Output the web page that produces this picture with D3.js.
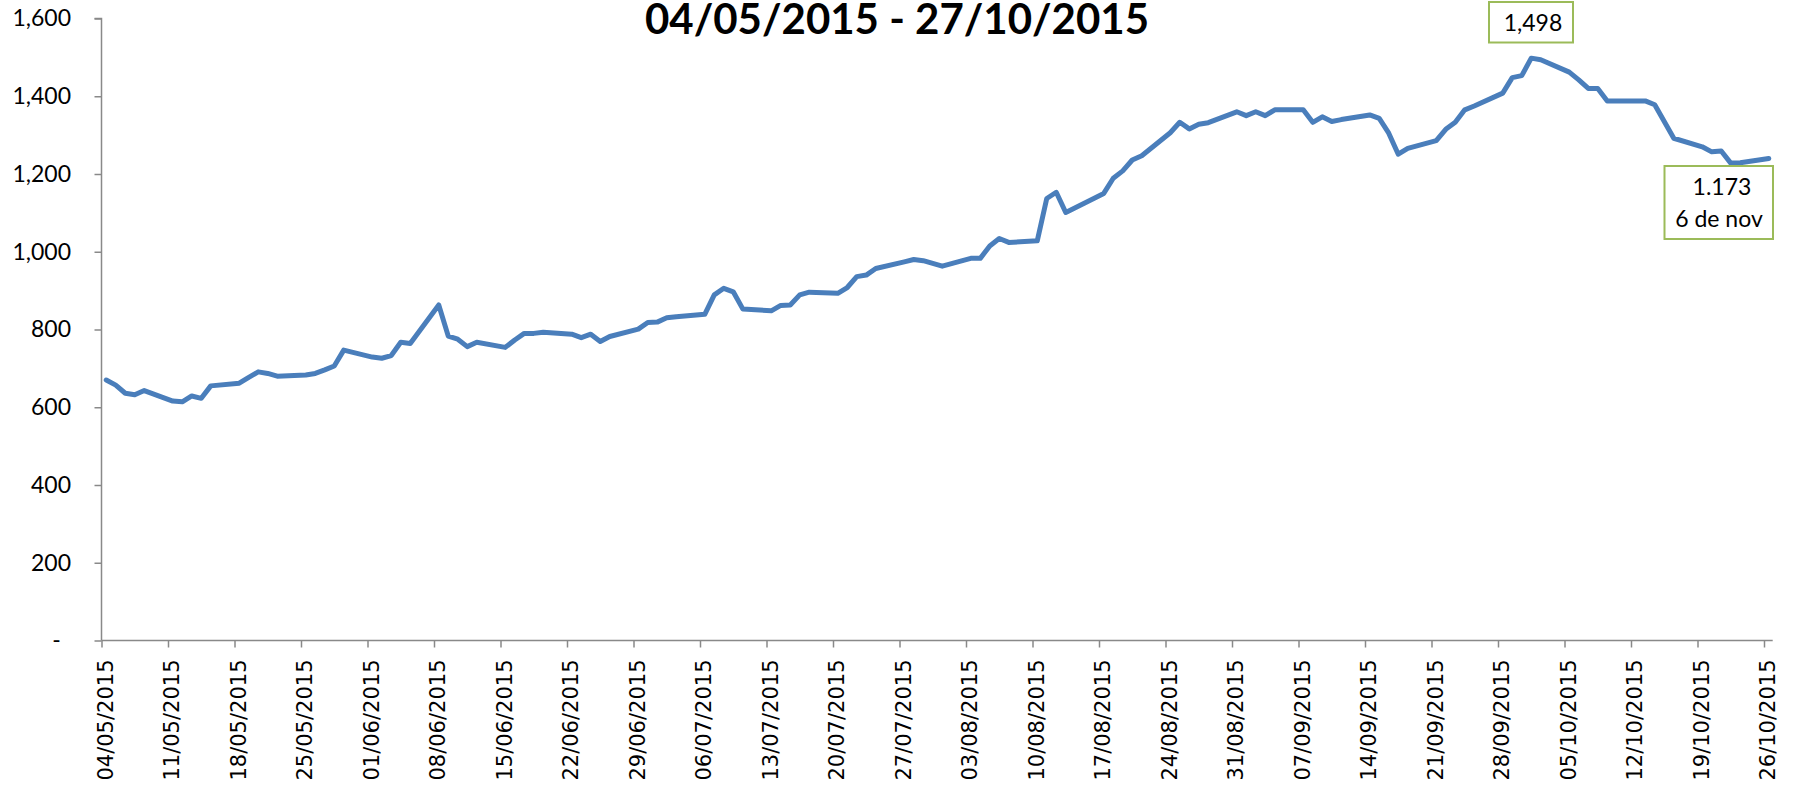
<!DOCTYPE html>
<html>
<head>
<meta charset="utf-8">
<script src="https://cdn.jsdelivr.net/npm/d3@7"></script>
<style>
html,body{margin:0;padding:0;background:#fff;overflow:hidden}
</style>
</head>
<body>
<svg id="chart" width="1802" height="793"></svg>
<script>
// ---------- DATA ----------
const title = "04/05/2015 - 27/10/2015";
const dates = [
"2015-05-04","2015-05-05","2015-05-06","2015-05-07","2015-05-08",
"2015-05-11","2015-05-12","2015-05-13","2015-05-14","2015-05-15",
"2015-05-18","2015-05-19","2015-05-20","2015-05-21","2015-05-22",
"2015-05-25","2015-05-26","2015-05-27","2015-05-28","2015-05-29",
"2015-06-01","2015-06-02","2015-06-03","2015-06-04","2015-06-05",
"2015-06-08","2015-06-09","2015-06-10","2015-06-11","2015-06-12",
"2015-06-15","2015-06-16","2015-06-17","2015-06-18","2015-06-19",
"2015-06-22","2015-06-23","2015-06-24","2015-06-25","2015-06-26",
"2015-06-29","2015-06-30","2015-07-01","2015-07-02","2015-07-03",
"2015-07-06","2015-07-07","2015-07-08","2015-07-09","2015-07-10",
"2015-07-13","2015-07-14","2015-07-15","2015-07-16","2015-07-17",
"2015-07-20","2015-07-21","2015-07-22","2015-07-23","2015-07-24",
"2015-07-27","2015-07-28","2015-07-29","2015-07-30","2015-07-31",
"2015-08-03","2015-08-04","2015-08-05","2015-08-06","2015-08-07",
"2015-08-10","2015-08-11","2015-08-12","2015-08-13","2015-08-14",
"2015-08-17","2015-08-18","2015-08-19","2015-08-20","2015-08-21",
"2015-08-24","2015-08-25","2015-08-26","2015-08-27","2015-08-28",
"2015-08-31","2015-09-01","2015-09-02","2015-09-03","2015-09-04",
"2015-09-07","2015-09-08","2015-09-09","2015-09-10","2015-09-11",
"2015-09-14","2015-09-15","2015-09-16","2015-09-17","2015-09-18",
"2015-09-21","2015-09-22","2015-09-23","2015-09-24","2015-09-25",
"2015-09-28","2015-09-29","2015-09-30","2015-10-01","2015-10-02",
"2015-10-05","2015-10-06","2015-10-07","2015-10-08","2015-10-09",
"2015-10-12","2015-10-13","2015-10-14","2015-10-15","2015-10-16",
"2015-10-19","2015-10-20","2015-10-21","2015-10-22","2015-10-23",
"2015-10-26"
];
const values = [
670,657,636,632,643,
616,614,629,623,655,
662,677,691,687,680,
683,687,696,706,747,
729,726,733,767,764,
863,783,775,756,767,
754,773,790,790,793,
788,779,788,769,782,
801,818,819,830,833,
839,889,906,897,853,
848,862,863,889,896,
893,908,936,940,957,
974,980,977,970,963,
983,983,1015,1034,1024,
1028,1137,1153,1101,1113,
1150,1189,1208,1236,1247,
1306,1333,1316,1328,1332,
1360,1350,1360,1350,1365,
1365,1333,1347,1335,1340,
1352,1343,1305,1251,1266,
1286,1315,1333,1365,1375,
1408,1448,1453,1498,1494,
1462,1442,1420,1420,1388,
1388,1388,1378,1335,1292,
1270,1257,1259,1228,1229,
1240
];
const yTicks = [0,200,400,600,800,1000,1200,1400,1600];
const axisStart = "2015-05-04";
const axisEnd = "2015-10-27";
const maxLabel = "1,498";
const minLabelLines = ["1.173","6 de nov"];

// ---------- LAYOUT ----------
const svg = d3.select("#chart");
const parse = d3.timeParse("%Y-%m-%d");
const fmt = d3.timeFormat("%d/%m/%Y");
const mLeft = 101.5, mRight = 1773.5, mTop = 18.5, mBottom = 640.5;
const axisColor = "#898989";
const lineColor = "#4A7EBB";
const boxColor = "#9BBB59";

const x = d3.scaleTime().domain([parse(axisStart), parse(axisEnd)]).range([mLeft, mRight]);
const y = d3.scaleLinear().domain([0, 1600]).range([mBottom, mTop]);

const data = dates.map((d, i) => ({date: d3.timeHour.offset(parse(d), 12), value: values[i]}));

// title
svg.append("text")
  .attr("x", 897).attr("y", 34)
  .attr("text-anchor", "middle")
  .style("font-family", "Lato, 'Open Sans', sans-serif")
  .style("font-weight", "bold")
  .style("font-size", "42px")
  .text(title);

// y axis
const yAxis = svg.append("g")
  .attr("transform", `translate(${mLeft},0)`)
  .call(d3.axisLeft(y).tickValues(yTicks).tickSize(7).tickPadding(23.5)
        .tickFormat(v => v === 0 ? "" : d3.format(",")(v)));
yAxis.selectAll("path,line").attr("stroke", axisColor).attr("stroke-width", 1.5);
yAxis.selectAll("text")
  .style("font-family", "Lato, 'Open Sans', sans-serif")
  .style("font-size", "23px").attr("fill", "#000");
yAxis.select("path").attr("d", `M-7,${y(1600)}H0V${y(0)}`);
yAxis.selectAll(".tick").filter(v => v === 0).append("text")
  .attr("x", -45).attr("dy", "0.32em").attr("text-anchor", "middle")
  .style("font-family", "Lato, 'Open Sans', sans-serif")
  .style("font-size", "23px").attr("fill", "#000").text("-");

// x axis
const xTickVals = d3.timeMonday.range(parse(axisStart), parse(axisEnd));
const xAxis = svg.append("g")
  .attr("transform", `translate(0,${mBottom})`)
  .call(d3.axisBottom(x).tickValues(xTickVals).tickSize(7).tickSizeOuter(0).tickFormat(fmt));
xAxis.selectAll("path,line").attr("stroke", axisColor).attr("stroke-width", 1.5);
xAxis.select("path").attr("d", `M${mLeft},0H${mRight - 0.8}`);
xAxis.selectAll("text")
  .attr("x", null).attr("y", null).attr("dy", "0.36em")
  .attr("text-anchor", "end")
  .attr("transform", "translate(3,19) rotate(-90)")
  .style("font-family", "'DejaVu Sans', Verdana, sans-serif")
  .style("font-size", "21px").attr("fill", "#000");

// line
svg.append("path")
  .datum(data)
  .attr("fill", "none")
  .attr("stroke", lineColor)
  .attr("stroke-width", 5)
  .attr("stroke-linejoin", "round")
  .attr("stroke-linecap", "round")
  .attr("d", d3.line().x(d => x(d.date)).y(d => y(d.value)));

// annotation: max
const box1 = svg.append("g");
box1.append("rect").attr("x", 1489).attr("y", 2).attr("width", 84).attr("height", 40.5)
  .attr("fill", "#fff").attr("stroke", boxColor).attr("stroke-width", 2);
box1.append("text").attr("x", 1533).attr("y", 31).attr("text-anchor", "middle")
  .style("font-family", "Lato, 'Open Sans', sans-serif").style("font-size", "23px")
  .text(maxLabel);

// annotation: min
const box2 = svg.append("g");
box2.append("rect").attr("x", 1664.5).attr("y", 166).attr("width", 108.5).attr("height", 73)
  .attr("fill", "#fff").attr("stroke", boxColor).attr("stroke-width", 2);
box2.selectAll("text.l").data(minLabelLines).enter().append("text")
  .attr("x", (d, i) => i === 0 ? 1722 : 1719)
  .attr("y", (d, i) => 195 + i * 32)
  .attr("text-anchor", "middle")
  .style("font-family", "Lato, 'Open Sans', sans-serif").style("font-size", "23px")
  .text(d => d);
</script>
</body>
</html>
